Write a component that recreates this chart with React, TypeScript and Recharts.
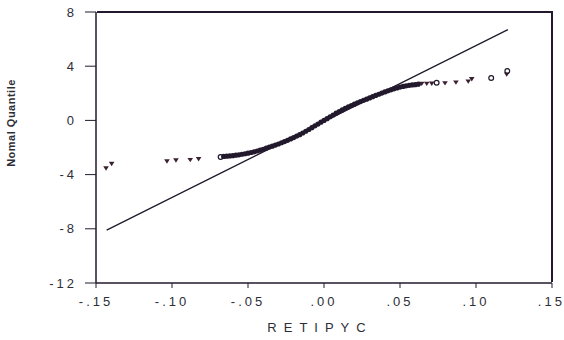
import React from "react";
import {
  ScatterChart,
  Scatter,
  XAxis,
  YAxis,
  Label,
} from "recharts";

// axis ticks and ranges
const xTicks = [-0.15, -0.1, -0.05, 0, 0.05, 0.1, 0.15];
const yTicks = [-12, -8, -4, 0, 4, 8];
const xDomain: [number, number] = [-0.15, 0.15];
const yDomain: [number, number] = [-12, 8];

// fitted normal reference line (end points)
const refLine = [
  { x: -0.143, y: -8.1 },
  { x: 0.121, y: 6.7 },
];

// dense body of the Q-Q plot
const bodyPoints: [number, number][] = [
  [-0.066, -2.66], [-0.064, -2.64], [-0.062, -2.62], [-0.06, -2.6],
  [-0.058, -2.57], [-0.056, -2.54], [-0.054, -2.5], [-0.052, -2.46],
  [-0.05, -2.42], [-0.048, -2.37], [-0.046, -2.32], [-0.044, -2.26],
  [-0.042, -2.2], [-0.04, -2.13], [-0.038, -2.05], [-0.036, -1.97],
  [-0.034, -1.9], [-0.032, -1.82], [-0.03, -1.74], [-0.028, -1.65],
  [-0.026, -1.56], [-0.024, -1.47], [-0.022, -1.37], [-0.02, -1.27],
  [-0.018, -1.16], [-0.016, -1.05], [-0.014, -0.93], [-0.012, -0.8],
  [-0.01, -0.67], [-0.008, -0.54], [-0.006, -0.4], [-0.004, -0.27],
  [-0.002, -0.13], [0, 0.0], [0.002, 0.13], [0.004, 0.27],
  [0.006, 0.4], [0.008, 0.53], [0.01, 0.65], [0.012, 0.77],
  [0.014, 0.89], [0.016, 1.0], [0.018, 1.1], [0.02, 1.2],
  [0.022, 1.3], [0.024, 1.39], [0.026, 1.48], [0.028, 1.57],
  [0.03, 1.66], [0.032, 1.75], [0.034, 1.84], [0.036, 1.93],
  [0.038, 2.02], [0.04, 2.1], [0.042, 2.18], [0.044, 2.26],
  [0.046, 2.33], [0.048, 2.4], [0.05, 2.46], [0.052, 2.51],
  [0.054, 2.55], [0.056, 2.59], [0.058, 2.62], [0.06, 2.64],
  [0.062, 2.67],
];

// tail observations drawn as triangles
const tailTriangles: [number, number][] = [
  [-0.1434, -3.53], [-0.1397, -3.2], [-0.1033, -3.02], [-0.0974, -2.95],
  [-0.088, -2.92], [-0.0825, -2.85],
  [0.0643, 2.71], [0.0676, 2.71], [0.0709, 2.72], [0.0796, 2.75],
  [0.0868, 2.8], [0.0949, 2.88], [0.0972, 3.05], [0.1202, 3.39],
];

// tail observations drawn as open circles
const tailCircles: [number, number][] = [
  [-0.068, -2.7], [0.0741, 2.78], [0.11, 3.13], [0.1206, 3.64],
];

const toXY = (pts: [number, number][]) => pts.map(([x, y]) => ({ x, y }));

const W = 564;
const H = 340;
const MARGIN = { top: 12, right: 12, left: 0, bottom: 0 };
const Y_AXIS_W = 96;
const X_AXIS_H = 57;
const INK = "#221a2c";
const TEXT = "#2e2e36";
const FONT = "'Liberation Sans', Arial, sans-serif";

const fmtX = (v: number) =>
  (v < 0 ? "-" : "") + Math.abs(v).toFixed(2).replace(/^0/, "");

const Triangle = (props: any) => {
  const { cx, cy } = props;
  return (
    <path
      d={`M${cx - 2.8},${cy - 2} L${cx + 2.8},${cy - 2} L${cx},${cy + 2.4} Z`}
      fill="#3a2030"
    />
  );
};

const OpenCircle = (props: any) => (
  <circle cx={props.cx} cy={props.cy} r={2.4} fill="none" stroke={INK} strokeWidth={1.2} />
);

const BodyDot = (props: any) => (
  <circle cx={props.cx} cy={props.cy} r={2.6} fill={INK} />
);

const NoDot = () => <g />;

export default function App() {
  // plot box (top + right edges drawn as an overlay border)
  const plotLeft = MARGIN.left + Y_AXIS_W;
  const plotTop = MARGIN.top;
  const plotW = W - plotLeft - MARGIN.right;
  const plotH = H - plotTop - X_AXIS_H;

  return (
    <div style={{ position: "absolute", left: 0, top: 0, width: W, height: H, background: "#fff" }}>
      <ScatterChart width={W} height={H} margin={MARGIN}>
        <XAxis
          type="number"
          dataKey="x"
          domain={xDomain}
          ticks={xTicks}
          tickFormatter={fmtX}
          height={X_AXIS_H}
          tickSize={5}
          tickMargin={9}
          axisLine={{ stroke: INK, strokeWidth: 1.5 }}
          tickLine={{ stroke: INK }}
          tick={{ fontSize: 13, fill: TEXT, fontFamily: FONT, letterSpacing: 3 }}
        >
          <Label
            value="RETIPYC"
            position="insideBottom"
            offset={8}
            dx={-4}
            style={{ fontSize: 13, fill: TEXT, fontFamily: FONT, letterSpacing: 7 }}
          />
        </XAxis>
        <YAxis
          type="number"
          dataKey="y"
          domain={yDomain}
          ticks={yTicks}
          width={Y_AXIS_W}
          tickSize={11}
          tickMargin={8}
          axisLine={{ stroke: INK, strokeWidth: 1.5 }}
          tickLine={{ stroke: INK }}
          tick={{ fontSize: 13, fill: TEXT, fontFamily: FONT, letterSpacing: 3 }}
        >
          <Label
            content={() => (
              <text
                x={15}
                y={123}
                transform="rotate(-90 15 123)"
                textAnchor="middle"
                fontSize={11}
                fontWeight="bold"
                fill={TEXT}
                fontFamily={FONT}
                letterSpacing={0.5}
              >
                Nomal Quantile
              </text>
            )}
          />
        </YAxis>
        <Scatter
          data={refLine}
          line={{ stroke: INK, strokeWidth: 1.3 }}
          shape={NoDot}
          isAnimationActive={false}
        />
        <Scatter data={toXY(bodyPoints)} shape={BodyDot} isAnimationActive={false} />
        <Scatter data={toXY(tailTriangles)} shape={Triangle} isAnimationActive={false} />
        <Scatter data={toXY(tailCircles)} shape={OpenCircle} isAnimationActive={false} />
      </ScatterChart>
      <div
        style={{
          position: "absolute",
          left: plotLeft,
          top: plotTop - 1,
          width: plotW,
          height: plotH,
          borderTop: `2px solid ${INK}`,
          borderRight: `2px solid ${INK}`,
          boxSizing: "border-box",
          marginRight: -1,
          pointerEvents: "none",
          transform: "translateX(1px)",
        }}
      />
    </div>
  );
}
